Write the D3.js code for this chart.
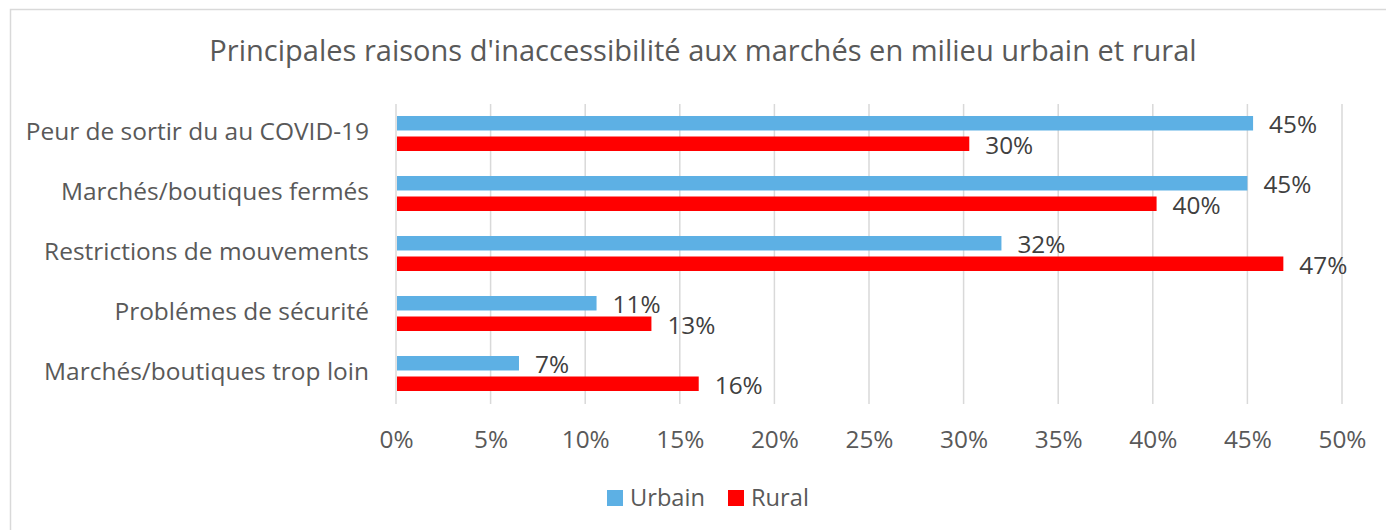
<!DOCTYPE html>
<html><head><meta charset="utf-8">
<script src="https://cdn.jsdelivr.net/npm/d3@7"></script>
<style>
html,body{margin:0;padding:0;background:#fff;}
svg{display:block;font-family:"Open Sans",sans-serif;}
</style></head>
<body>
<svg id="chart" width="1386" height="530"></svg>
<script>
const title = "Principales raisons d'inaccessibilité aux marchés en milieu urbain et rural";
const categories = ["Peur de sortir du au COVID-19","Marchés/boutiques fermés","Restrictions de mouvements","Problémes de sécurité","Marchés/boutiques trop loin"];
const seriesNames = ["Urbain","Rural"];
const urbainValues = [45.3, 45.0, 32.0, 10.6, 6.5];
const ruralValues = [30.3, 40.2, 46.9, 13.5, 16.0];
const urbainLabels = ["45%","45%","32%","11%","7%"];
const ruralLabels = ["30%","40%","47%","13%","16%"];
const xTicks = [0,5,10,15,20,25,30,35,40,45,50];
const colors = {"Urbain":"#5DB0E4","Rural":"#FF0000"};
const textColor = "#595959";
const FONT = "'Open Sans',sans-serif";

const svg = d3.select("#chart");
svg.append("rect").attr("x",10.5).attr("y",9.5).attr("width",1400).attr("height",540)
  .attr("fill","none").attr("stroke","#d9d9d9").attr("stroke-width",1.5);

const x = d3.scaleLinear().domain([0,50]).range([396,1342]);
const y = d3.scaleBand().domain(categories).range([104,404]).padding(0);
const ys = d3.scaleBand().domain(seriesNames).range([12,47]).paddingInner(0.293).paddingOuter(0);

function fitSize(str, target, base){
  const t = svg.append("text").attr("font-size",base).attr("font-family",FONT).text(str);
  const w = t.node().getComputedTextLength();
  t.remove();
  return base*target/w;
}
const titleSize = fitSize(title, 988, 26);
const catSize = fitSize("Marchés/boutiques trop loin", 325, 22);
const tickSize = fitSize("50%", 48, 22);
const dataSize = fitSize("45%", 48, 22);
const legSize = fitSize("Urbain", 75, 22);

svg.append("text").attr("x",703).attr("y",61).attr("text-anchor","middle")
  .attr("font-size",titleSize).attr("fill",textColor).text(title);

svg.append("g").selectAll("line").data(xTicks).join("line")
  .attr("x1",d=>x(d)).attr("x2",d=>x(d)).attr("y1",104).attr("y2",404)
  .attr("stroke","#d9d9d9").attr("stroke-width",1.5);

const xAxis = d3.axisBottom(x).tickValues(xTicks).tickFormat(d=>d+"%").tickSize(0).tickPadding(0);
const gx = svg.append("g").call(xAxis);
gx.select(".domain").remove();
gx.selectAll("text").attr("y",448).attr("dy",null).attr("font-size",tickSize)
  .attr("fill",textColor).attr("font-family",FONT);

const yAxis = d3.axisLeft(y).tickSize(0).tickPadding(0);
const gy = svg.append("g").attr("transform","translate(369,0)").call(yAxis);
gy.select(".domain").remove();
gy.selectAll("text").attr("x",0).attr("dy",null).attr("y",y.bandwidth()/2+6)
  .attr("font-size",catSize).attr("fill",textColor).attr("font-family",FONT);
gy.selectAll(".tick").attr("transform",d=>`translate(0,${y(d)})`);

const rows = categories.map((c,i)=>({cat:c, vals:[
  {s:"Urbain", v:urbainValues[i], lab:urbainLabels[i]},
  {s:"Rural", v:ruralValues[i], lab:ruralLabels[i]}]}));
const groups = svg.append("g").selectAll("g").data(rows).join("g")
  .attr("transform",d=>`translate(0,${y(d.cat)})`);
groups.selectAll("rect").data(d=>d.vals).join("rect")
  .attr("x",x(0)+1).attr("y",d=>ys(d.s)).attr("height",ys.bandwidth())
  .attr("width",d=>x(d.v)-x(0)-1).attr("fill",d=>colors[d.s]);
groups.selectAll("text").data(d=>d.vals).join("text")
  .attr("x",d=>x(d.v)+16).attr("y",d=>ys(d.s)+ys.bandwidth()/2+10)
  .attr("font-size",dataSize).attr("fill","#404040").text(d=>d.lab);

const legend = svg.append("g");
const legItems = [{s:"Urbain",x:607},{s:"Rural",x:728}];
legItems.forEach(it=>{
  legend.append("rect").attr("x",it.x).attr("y",490).attr("width",16).attr("height",16).attr("fill",colors[it.s]);
  legend.append("text").attr("x",it.x+23).attr("y",506).attr("font-size",legSize).attr("fill",textColor).text(it.s);
});
</script>
</body></html>
